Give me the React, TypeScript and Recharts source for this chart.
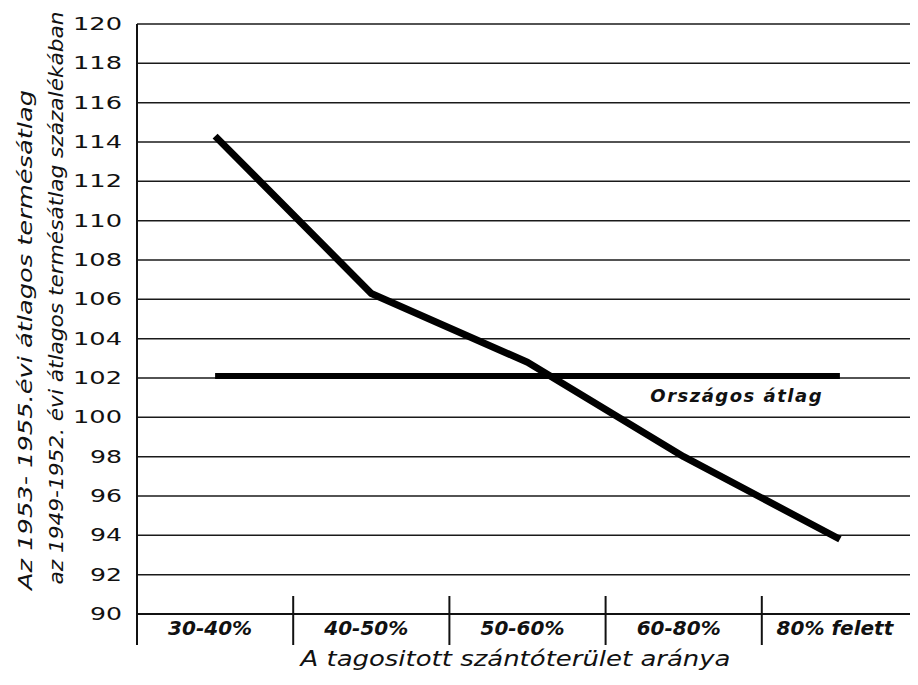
import React from 'react';
import { LineChart, Line, XAxis, YAxis, CartesianGrid, LabelList } from 'recharts';

// adatok
const categories = ['30-40%', '40-50%', '50-60%', '60-80%', '80% felett'];
const yieldIndex = [114.3, 106.3, 102.8, 98.0, 93.8];
const nationalAverage = [102.1, 102.1, 102.1, 102.1, 102.1];
const yTicks = [90, 92, 94, 96, 98, 100, 102, 104, 106, 108, 110, 112, 114, 116, 118, 120];

const W = 918;
const H = 685;
const Y_AXIS_W = 137;
const MARGIN = { top: 24, right: 0, bottom: 0, left: 0 };
const X_AXIS_H = 71;
const BAND = (W - Y_AXIS_W - MARGIN.left - MARGIN.right) / categories.length;

const data = categories.map((c, i) => ({
  category: c,
  value: yieldIndex[i],
  avg: nationalAverage[i],
}));

const FONT = '"DejaVu Sans", sans-serif';

const YTick = (props: any) => {
  const { x, y, payload } = props;
  const s = String(payload.value);
  return (
    <text
      x={x}
      y={y}
      textAnchor="end"
      dominantBaseline="central"
      fontFamily={FONT}
      fontSize={17}
      fill="#111"
      textLength={s.length * 17 - 2}
      lengthAdjust="spacingAndGlyphs"
    >
      {s}
    </text>
  );
};

const XTick = (props: any) => {
  const { x, y, payload } = props;
  const left = x - BAND / 2;
  return (
    <g>
      <line x1={left} x2={left} y1={y - 18} y2={y + 31} stroke="#111" strokeWidth={2} />
      <text
        x={x - 5}
        y={y + 14}
        textAnchor="middle"
        dominantBaseline="central"
        fontFamily={FONT}
        fontSize={20}
        fontStyle="italic"
        fontWeight="bold"
        fill="#111"
      >
        {payload.value}
      </text>
    </g>
  );
};

const XTitle = (props: any) => {
  const vb = props.viewBox || { x: Y_AXIS_W, y: H - X_AXIS_H, width: W - Y_AXIS_W, height: X_AXIS_H };
  return (
    <text
      x={vb.x + vb.width / 2 - 12}
      y={vb.y + 52}
      textAnchor="middle"
      fontFamily={FONT}
      fontSize={22}
      fontStyle="italic"
      fill="#111"
      textLength={430}
      lengthAdjust="spacingAndGlyphs"
    >
      A tagositott szántóterület aránya
    </text>
  );
};

const YLabel = () => (
  <g fontFamily={FONT} fontStyle="italic" fontSize={19} fill="#111">
    <text
      transform="translate(25, 340) rotate(-90)"
      textAnchor="middle"
      dominantBaseline="central"
      textLength={500}
      lengthAdjust="spacingAndGlyphs"
    >
      Az 1953- 1955.évi átlagos termésátlag
    </text>
    <text
      transform="translate(56, 298) rotate(-90)"
      textAnchor="middle"
      dominantBaseline="central"
      textLength={573}
      lengthAdjust="spacingAndGlyphs"
    >
      az 1949-1952. évi átlagos termésátlag százalékában
    </text>
  </g>
);

const AvgLabel = (props: any) => {
  const { x, y, index } = props;
  if (index !== 3) return null;
  return (
    <text
      x={x + 53}
      y={y + 26}
      textAnchor="middle"
      fontFamily={FONT}
      fontSize={18}
      fontStyle="italic"
      fontWeight="bold"
      letterSpacing={1.5}
      fill="#111"
    >
      Országos átlag
    </text>
  );
};

export default function App() {
  return (
    <div style={{ margin: -8, width: W, height: H, background: '#fff' }}>
      <LineChart width={W} height={H} data={data} margin={MARGIN}>
        <CartesianGrid horizontal vertical={false} stroke="#1a1a1a" strokeWidth={1.5} />
        <XAxis
          dataKey="category"
          scale="band"
          height={X_AXIS_H}
          axisLine={{ stroke: '#111', strokeWidth: 2 }}
          tickLine={false}
          tickSize={0}
          tickMargin={0}
          interval={0}
          tick={<XTick />}
          label={<XTitle />}
        />
        <YAxis
          domain={[90, 120]}
          ticks={yTicks}
          width={Y_AXIS_W}
          axisLine={{ stroke: '#111', strokeWidth: 2 }}
          tickLine={false}
          tickMargin={9}
          interval={0}
          tick={<YTick />}
          label={<YLabel />}
        />
        <Line
          dataKey="avg"
          stroke="#000"
          strokeWidth={6}
          dot={false}
          isAnimationActive={false}
        >
          <LabelList dataKey="avg" content={<AvgLabel />} />
        </Line>
        <Line
          dataKey="value"
          stroke="#000"
          strokeWidth={7}
          strokeLinejoin="round"
          dot={false}
          isAnimationActive={false}
        />
      </LineChart>
    </div>
  );
}
